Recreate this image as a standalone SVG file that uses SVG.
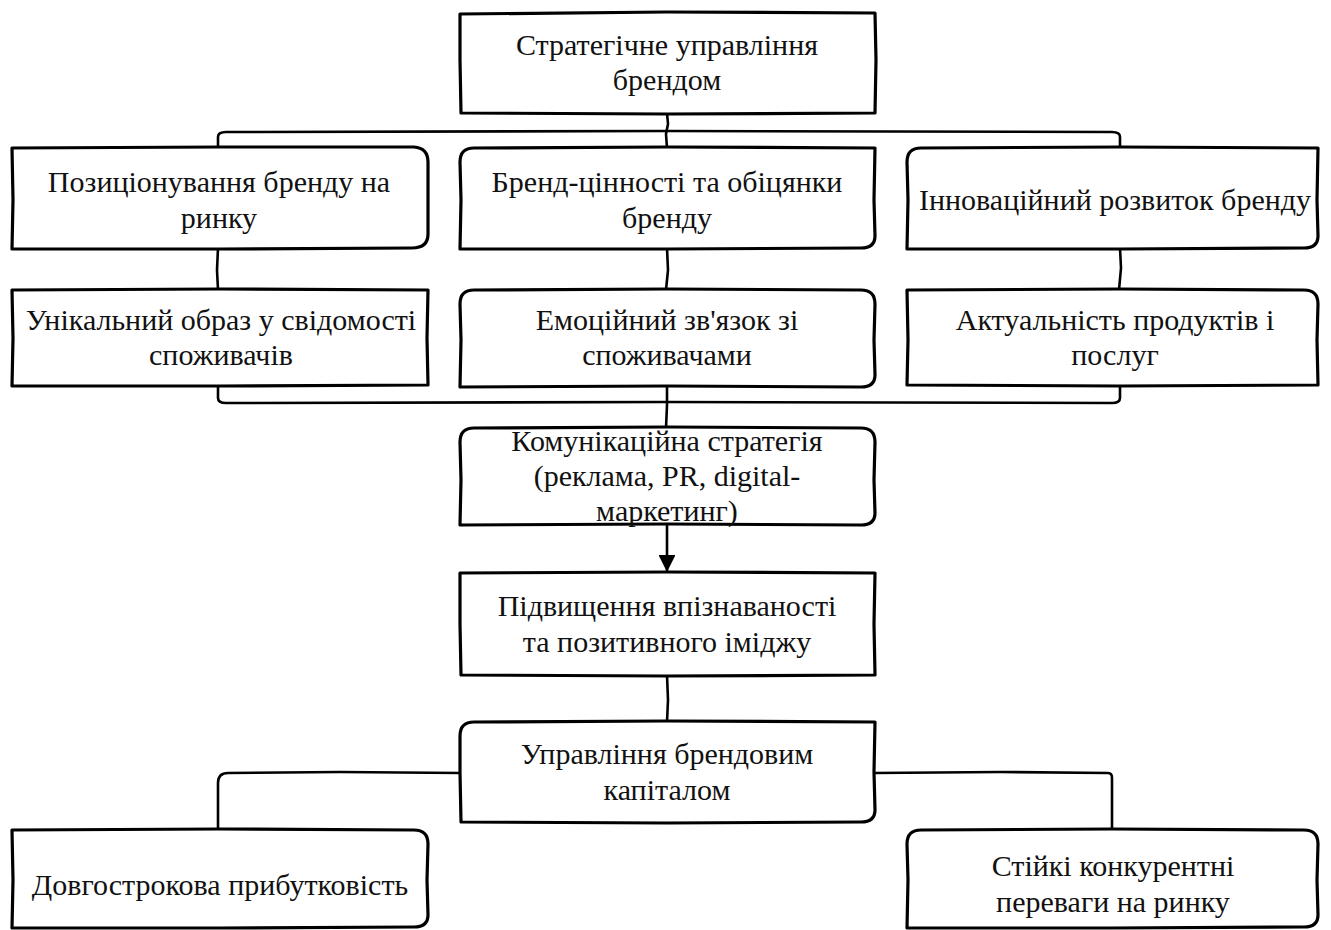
<svg xmlns="http://www.w3.org/2000/svg" width="1331" height="930" viewBox="0 0 1331 930">
<style>
.box{fill:#fff;stroke:#000;stroke-width:3.2;stroke-linejoin:round}
.c{fill:none;stroke:#000;stroke-width:2.6;stroke-linecap:round;stroke-linejoin:round}
.t{font-size:30px;fill:#111;text-anchor:middle}
</style>
<defs>
<marker id="arr" viewBox="0 0 10 10" refX="10" refY="5" markerWidth="6.5" markerHeight="6.5" orient="auto" markerUnits="strokeWidth">
<path d="M0,0 L10,5 L0,10 Z" fill="#000"/>
</marker>
</defs>
<rect width="1331" height="930" fill="#fff"/>
<g id="connectors">
<path class="c" d="M667,113 L668,124 L666,134 L667,148"/>
<path class="c" d="M218,148 L218,137 Q218,132 226,132 L667,131 L1112,132 Q1120,132 1120,137 L1120,148"/>
<path class="c" d="M218,248 L217,270 L218,290"/>
<path class="c" d="M667,248 L668,270 L666,290"/>
<path class="c" d="M1120,248 L1121,268 L1119,290"/>
<path class="c" d="M218,385 L218,398 Q218,403 226,403 L667,402 L1112,403 Q1120,403 1120,398 L1120,385"/>
<path class="c" d="M667,387 L667,405 L666,428"/>
<path class="c" d="M667,525 L667,572" marker-end="url(#arr)"/>
<path class="c" d="M667,675 L668,700 L667,722"/>
<path class="c" d="M460,773 L340,772 L228,773 Q218,773 218,783 L218,830"/>
<path class="c" d="M875,773 L1000,772 L1108,773 Q1112,773 1112,778 L1112,830"/>
</g>
<g id="n1">
<path class="box" d="M460,14 L667,12 L875,13 L876,60 L875,113 L667,114 L461,113 L460,60 Z"/>
<text class="t" font-family="Liberation Serif" x="667" y="55">Стратегічне управління</text>
<text class="t" font-family="Liberation Serif" x="667" y="90">брендом</text>
</g>
<g id="n2">
<path class="box" d="M12,148 L220,147 L414,147 Q428,148 428,162 L428,234 Q428,248 412,248 L220,249 L12,249 L13,200 Z"/>
<text class="t" font-family="Liberation Serif" x="219" y="192">Позиціонування бренду на</text>
<text class="t" font-family="Liberation Serif" x="219" y="228">ринку</text>
</g>
<g id="n3">
<path class="box" d="M474,148 L667,147 L875,148 L874,200 L875,236 Q875,248 861,248 L667,249 L460,249 L461,200 L460,162 Q460,148 474,148 Z"/>
<text class="t" font-family="Liberation Serif" x="667" y="192">Бренд-цінності та обіцянки</text>
<text class="t" font-family="Liberation Serif" x="667" y="228">бренду</text>
</g>
<g id="n4">
<path class="box" d="M921,148 L1120,147 L1318,148 L1317,200 L1318,236 Q1318,248 1304,248 L1120,249 L907,249 L908,200 L907,162 Q907,148 921,148 Z"/>
<text class="t" font-family="Liberation Serif" x="1115" y="210">Інноваційний розвиток бренду</text>
</g>
<g id="n5">
<path class="box" d="M12,290 L220,289 L428,290 L427,338 L428,385 L220,386 L12,386 L13,338 Z"/>
<text class="t" font-family="Liberation Serif" x="221" y="330">Унікальний образ у свідомості</text>
<text class="t" font-family="Liberation Serif" x="221" y="365">споживачів</text>
</g>
<g id="n6">
<path class="box" d="M474,290 L667,289 L861,290 Q875,290 875,304 L874,340 L875,375 Q875,387 861,387 L667,386 L460,387 L461,340 L460,304 Q460,290 474,290 Z"/>
<text class="t" font-family="Liberation Serif" x="667" y="330">Емоційний зв'язок зі</text>
<text class="t" font-family="Liberation Serif" x="667" y="365">споживачами</text>
</g>
<g id="n7">
<path class="box" d="M907,290 L1120,289 L1304,290 Q1318,290 1318,304 L1317,340 L1318,385 L1120,386 L907,385 L908,340 Z"/>
<text class="t" font-family="Liberation Serif" x="1115" y="330">Актуальність продуктів і</text>
<text class="t" font-family="Liberation Serif" x="1115" y="365">послуг</text>
</g>
<g id="n8">
<path class="box" d="M474,428 L667,427 L861,428 Q875,428 875,442 L874,480 L875,513 Q875,525 861,525 L667,524 L460,525 L461,480 L460,442 Q460,428 474,428 Z"/>
<text class="t" font-family="Liberation Serif" x="667" y="451">Комунікаційна стратегія</text>
<text class="t" font-family="Liberation Serif" x="667" y="486">(реклама, PR, digital-</text>
<text class="t" font-family="Liberation Serif" x="667" y="521">маркетинг)</text>
</g>
<g id="n9">
<path class="box" d="M460,573 L667,572 L875,573 L874,624 L875,675 L667,676 L461,675 L460,624 Z"/>
<text class="t" font-family="Liberation Serif" x="667" y="616">Підвищення впізнаваності</text>
<text class="t" font-family="Liberation Serif" x="667" y="652">та позитивного іміджу</text>
</g>
<g id="n10">
<path class="box" d="M474,722 L667,721 L875,722 L874,772 L875,810 Q875,822 861,822 L667,823 L461,822 L460,772 L460,736 Q460,722 474,722 Z"/>
<text class="t" font-family="Liberation Serif" x="667" y="764">Управління брендовим</text>
<text class="t" font-family="Liberation Serif" x="667" y="800">капіталом</text>
</g>
<g id="n11">
<path class="box" d="M12,830 L220,829 L414,830 Q428,830 428,844 L427,880 L428,915 Q428,927 414,927 L220,928 L12,928 L13,880 Z"/>
<text class="t" font-family="Liberation Serif" x="220" y="895">Довгострокова прибутковість</text>
</g>
<g id="n12">
<path class="box" d="M921,830 L1112,829 L1304,830 Q1318,830 1318,844 L1317,880 L1318,915 Q1318,927 1304,927 L1112,928 L907,928 L908,880 L907,844 Q907,830 921,830 Z"/>
<text class="t" font-family="Liberation Serif" x="1113" y="876">Стійкі конкурентні</text>
<text class="t" font-family="Liberation Serif" x="1113" y="912">переваги на ринку</text>
</g>
</svg>
